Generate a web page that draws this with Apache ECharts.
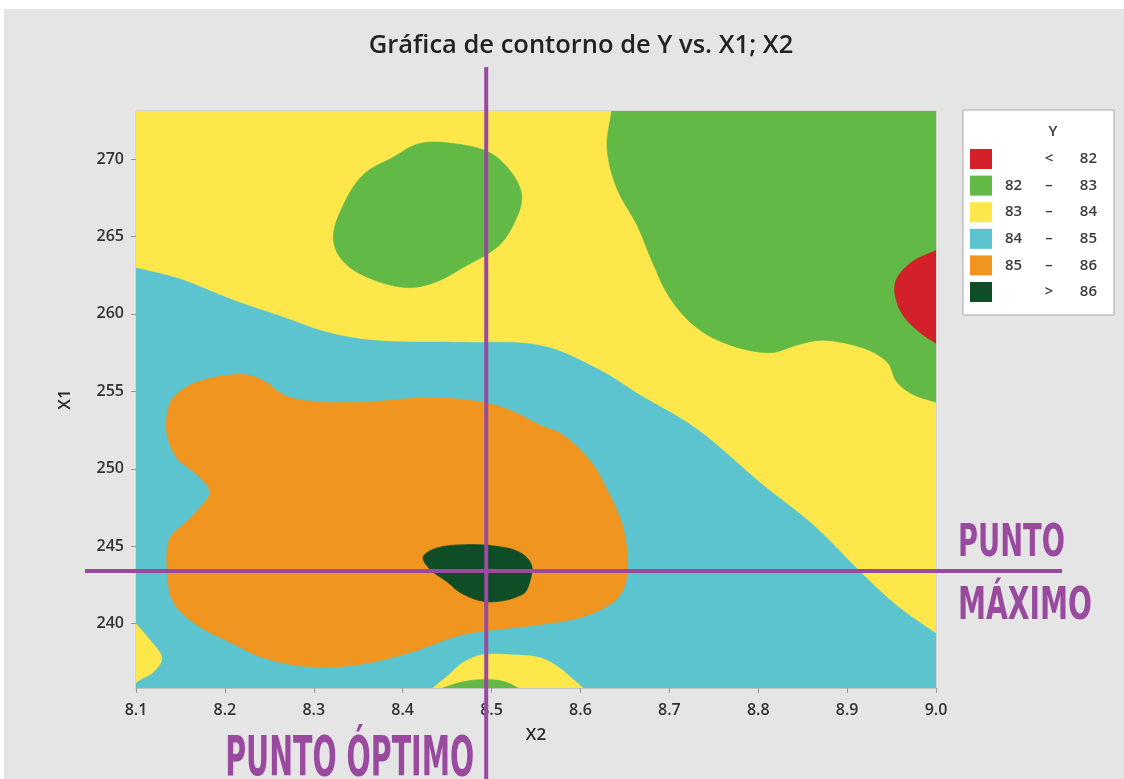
<!DOCTYPE html>
<html>
<head>
<meta charset="utf-8">
<script src="https://cdn.jsdelivr.net/npm/echarts@6/dist/echarts.min.js"></script>
<style>
  html, body { margin: 0; padding: 0; background: #ffffff; }
  #chart { width: 1124px; height: 779px; }
</style>
</head>
<body>
<div id="chart"></div>
<script>
// Contour levels of the response Y
const levelLow  = ['', '82', '83', '84', '85', ''];
const levelSep  = ['<', '–', '–', '–', '–', '>'];
const levelHigh = ['82', '83', '84', '85', '86', '86'];
const levelColors = ['#d4202a', '#62b946', '#fde74a', '#5bc4cf', '#f0951f', '#0f4d27'];

// Axis extents and tick values
const x2Range = [8.1, 9.0];
const x1Range = [235.85, 273.1];
const x2Ticks = [8.1, 8.2, 8.3, 8.4, 8.5, 8.6, 8.7, 8.8, 8.9, 9.0];
const x1Ticks = [240, 245, 250, 255, 260, 265, 270];

// Contour regions as [X2, X1] boundary vertices
const region84to85 = [[8.1, 235.85], [9.0, 235.85], [9.0, 273.1], [8.1, 273.1]];

const region83to84Upper = [
  [8.1, 273.1], [8.1, 263.0], [8.149, 262.3], [8.206, 261.0], [8.262, 259.9],
  [8.318, 258.8], [8.374, 258.3], [8.468, 258.2], [8.555, 258.0], [8.619, 256.5],
  [8.667, 254.8], [8.731, 252.6], [8.805, 249.0], [8.862, 246.4], [8.918, 243.2],
  [8.956, 241.2], [9.0, 239.4], [9.0, 273.1]
];
const region83to84Corner = [
  [8.1, 240.0], [8.115, 239.0], [8.129, 237.8], [8.12, 236.9], [8.105, 236.4], [8.1, 236.2]
];
const region83to84Bottom = [
  [8.434, 235.85], [8.452, 236.7], [8.468, 237.5], [8.49, 238.0], [8.52, 238.0],
  [8.555, 237.8], [8.575, 237.2], [8.59, 236.5], [8.603, 235.85]
];

const region82to83TopRight = [
  [8.635, 273.1], [8.630, 270.7], [8.641, 268.1], [8.664, 265.7], [8.682, 263.2],
  [8.701, 261.0], [8.731, 259.1], [8.768, 258.0], [8.813, 257.5], [8.844, 258.0],
  [8.873, 258.3], [8.918, 257.8], [8.945, 256.9], [8.956, 255.6], [8.974, 254.8],
  [9.0, 254.3], [9.0, 273.1]
];
const region82to83Island = [
  [8.419, 271.0], [8.457, 271.0], [8.498, 270.4], [8.524, 269.0], [8.534, 267.5],
  [8.524, 265.7], [8.506, 264.3], [8.468, 263.0], [8.439, 262.1], [8.405, 261.7],
  [8.363, 262.3], [8.333, 263.4], [8.322, 264.9], [8.333, 267.0], [8.356, 269.0],
  [8.389, 270.1]
];
const region82to83Bottom = [
  [8.445, 235.85], [8.468, 236.25], [8.495, 236.4], [8.515, 236.25], [8.53, 235.85]
];

const regionBelow82 = [
  [9.0, 264.1], [8.974, 263.4], [8.956, 262.3], [8.954, 261.2], [8.963, 259.9],
  [8.982, 258.8], [9.0, 258.1]
];

const region85to86 = [
  [8.142, 254.6], [8.169, 255.6], [8.217, 256.1], [8.243, 255.7], [8.265, 254.8],
  [8.290, 254.4], [8.355, 254.3], [8.431, 254.6], [8.490, 254.3], [8.524, 253.7],
  [8.555, 252.8], [8.580, 252.2], [8.611, 250.5], [8.633, 248.3], [8.648, 246.2],
  [8.653, 244.0], [8.650, 242.5], [8.637, 241.4], [8.600, 240.4], [8.548, 239.9],
  [8.468, 239.3], [8.412, 238.2], [8.355, 237.4], [8.299, 237.2], [8.243, 237.8],
  [8.206, 238.8], [8.169, 239.9], [8.142, 241.4], [8.135, 243.6], [8.138, 245.5],
  [8.157, 246.6], [8.172, 247.5], [8.183, 248.5], [8.169, 249.6], [8.146, 250.7],
  [8.135, 252.2], [8.135, 253.5]
];

const regionAbove86 = [
  [8.423, 244.3], [8.439, 244.9], [8.468, 245.1], [8.506, 245.0], [8.532, 244.6],
  [8.545, 243.8], [8.543, 242.7], [8.535, 241.9], [8.498, 241.4], [8.468, 241.9],
  [8.450, 242.7], [8.431, 243.5]
];

// Regions belonging to each level (same order as the level arrays)
const regionsByLevel = [
  [regionBelow82],
  [region82to83TopRight, region82to83Island, region82to83Bottom],
  [region83to84Upper, region83to84Corner, region83to84Bottom],
  [region84to85],
  [region85to86],
  [regionAbove86]
];
// Painting order of the levels, back to front
const paintOrder = [3, 2, 1, 0, 4, 5];

// Reference crosshair: optimum (X2, X1)
const optimum = [8.494, 243.4];

const purple = '#994a9f';
const textFont = '"Open Sans", "DejaVu Sans", sans-serif';

const levelNames = levelLow.map((lo, i) =>
  lo ? lo + ' ' + levelSep[i] + ' ' + levelHigh[i] : levelSep[i] + ' ' + levelHigh[i]);

const EPS = 1e-9;
function onEdge(p) {
  return Math.abs(p[0] - x2Range[0]) < EPS || Math.abs(p[0] - x2Range[1]) < EPS ||
         Math.abs(p[1] - x1Range[0]) < EPS || Math.abs(p[1] - x1Range[1]) < EPS;
}

function regionRenderer(polys, color) {
  return function (params, api) {
    const poly = polys[api.value(2)];
    const pts = [];
    poly.forEach(function (p) {
      const c = api.coord(p);
      // vertices on the frame are repeated so the curve meets the frame cleanly
      const reps = onEdge(p) ? 3 : 1;
      for (let k = 0; k < reps; k++) pts.push(c);
    });
    return {
      type: 'polygon',
      shape: { points: pts, smooth: 0.35 },
      style: { fill: color, stroke: color, lineWidth: 0.6 }
    };
  };
}

const series = paintOrder.map(function (li) {
  const polys = regionsByLevel[li];
  return {
    type: 'custom',
    name: levelNames[li],
    clip: true,
    silent: true,
    itemStyle: { color: levelColors[li] },
    encode: { x: 0, y: 1 },
    data: polys.map(function (p, i) { return [p[0][0], p[0][1], i]; }),
    renderItem: regionRenderer(polys, levelColors[li])
  };
});

const chart = echarts.init(document.getElementById('chart'), null, { renderer: 'canvas' });

const axisLabelStyle = {
  fontFamily: textFont, fontSize: 16, fontWeight: 600, color: '#333'
};
const legendText = { fontFamily: textFont, fontSize: 15, fontWeight: 600, color: '#3a3a3a' };

chart.setOption({
  animation: false,
  backgroundColor: '#e5e5e5',
  title: [
    {
      text: 'Gráfica de contorno de Y vs. X1; X2',
      left: 581, top: 33, padding: 0, textAlign: 'center',
      textStyle: { fontFamily: textFont, fontSize: 25.5, fontWeight: 600, color: '#222' }
    },
    {
      text: 'Y',
      left: 1053, top: 124, padding: 0, textAlign: 'center',
      textStyle: { fontFamily: textFont, fontSize: 15, fontWeight: 600, color: '#3a3a3a' }
    }
  ],
  legend: {
    orient: 'vertical',
    left: 963, top: 110,
    padding: [39, 17, 13, 7],
    itemWidth: 22, itemHeight: 20, itemGap: 6.6,
    icon: 'rect',
    selectedMode: false,
    backgroundColor: '#ffffff',
    borderColor: '#a8a8a8', borderWidth: 1,
    data: levelNames,
    formatter: function (name) {
      const i = levelNames.indexOf(name);
      return '{lo|' + levelLow[i] + '}{sep|' + levelSep[i] + '}{hi|' + levelHigh[i] + '}';
    },
    textStyle: Object.assign({
      rich: {
        lo:  Object.assign({ width: 33, align: 'right' }, legendText),
        sep: Object.assign({ width: 38, align: 'center' }, legendText),
        hi:  Object.assign({ width: 29, align: 'right' }, legendText)
      }
    }, legendText)
  },
  grid: {
    left: 136, right: 188, top: 111, bottom: 91,
    show: true, borderColor: '#c4c4c4', borderWidth: 1, backgroundColor: 'transparent'
  },
  xAxis: {
    type: 'value',
    min: x2Range[0], max: x2Range[1],
    name: 'X2', nameLocation: 'middle', nameGap: 39,
    nameTextStyle: { fontFamily: textFont, fontSize: 17, fontWeight: 600, color: '#2a2a2a' },
    axisLine: { show: true, lineStyle: { color: '#c4c4c4', width: 1 } },
    axisTick: { show: true, length: 5, customValues: x2Ticks, lineStyle: { color: '#9a9a9a' } },
    axisLabel: Object.assign({ margin: 14, customValues: x2Ticks,
      formatter: function (v) { return v.toFixed(1); } }, axisLabelStyle),
    splitLine: { show: false }
  },
  yAxis: {
    type: 'value',
    min: x1Range[0], max: x1Range[1],
    name: 'X1', nameLocation: 'middle', nameGap: 62, nameRotate: 90,
    nameTextStyle: { fontFamily: textFont, fontSize: 17, fontWeight: 600, color: '#2a2a2a' },
    axisLine: { show: true, lineStyle: { color: '#c4c4c4', width: 1 } },
    axisTick: { show: true, length: 5, customValues: x1Ticks, lineStyle: { color: '#9a9a9a' } },
    axisLabel: Object.assign({ margin: 12, customValues: x1Ticks,
      formatter: function (v) { return String(v); } }, axisLabelStyle),
    splitLine: { show: false }
  },
  tooltip: { show: false },
  series: series
});

// Crosshair through the optimum and its callout labels
const o = chart.convertToPixel({ gridIndex: 0 }, optimum);
const ox = o[0], oy = o[1];

const measureCtx = document.createElement('canvas').getContext('2d');
function fitScale(text, font, width) {
  measureCtx.font = font;
  return width / measureCtx.measureText(text).width;
}
const calloutFamily = '"DejaVu Sans", sans-serif';
const fontOptimo = 'bold 55px ' + calloutFamily;
const fontMaximo = 'bold 45px ' + calloutFamily;

chart.setOption({
  graphic: {
    elements: [
      { type: 'rect', z: 100, silent: true, shape: { x: 0, y: 0, width: 1124, height: 9 }, style: { fill: '#ffffff' } },
      { type: 'rect', z: 100, silent: true, shape: { x: 0, y: 0, width: 4, height: 779 }, style: { fill: '#ffffff' } },
      {
        type: 'line', z: 100, silent: true,
        shape: { x1: ox, y1: 67, x2: ox, y2: 779 },
        style: { stroke: purple, lineWidth: 4 }
      },
      {
        type: 'line', z: 100, silent: true,
        shape: { x1: 85, y1: oy, x2: 1062, y2: oy },
        style: { stroke: purple, lineWidth: 4 }
      },
      {
        type: 'text', z: 100, silent: true,
        x: ox - 12, y: 761,
        scaleX: fitScale('PUNTO ÓPTIMO', fontOptimo, 249),
        style: { text: 'PUNTO ÓPTIMO', font: fontOptimo, fill: purple, align: 'right', verticalAlign: 'middle' }
      },
      {
        type: 'text', z: 100, silent: true,
        x: 958, y: oy - 27,
        scaleX: fitScale('PUNTO', fontMaximo, 107),
        style: { text: 'PUNTO', font: fontMaximo, fill: purple, align: 'left', verticalAlign: 'middle' }
      },
      {
        type: 'text', z: 100, silent: true,
        x: 958, y: oy + 36,
        scaleX: fitScale('MÁXIMO', fontMaximo, 134),
        style: { text: 'MÁXIMO', font: fontMaximo, fill: purple, align: 'left', verticalAlign: 'middle' }
      }
    ]
  }
});
</script>
</body>
</html>
